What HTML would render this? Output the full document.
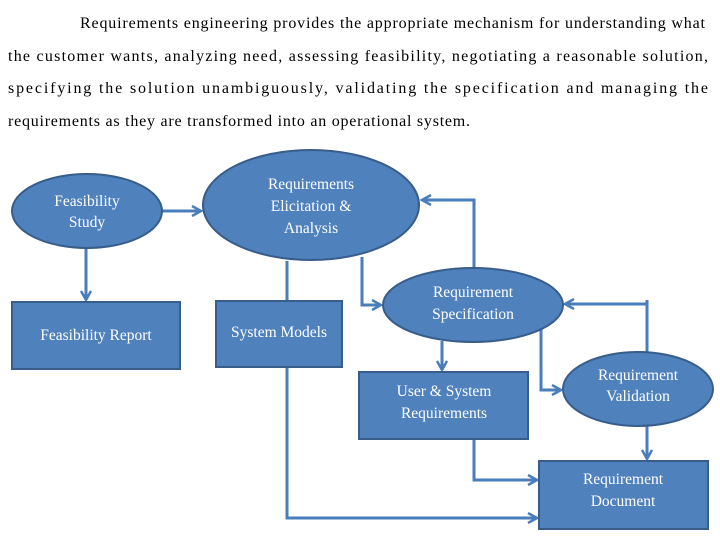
<!DOCTYPE html>
<html><head><meta charset="utf-8"><style>
html,body{margin:0;padding:0;background:#fff;}
svg{display:block;}
.p{font-family:"Liberation Serif",serif;font-size:16px;fill:#000;}
.w{font-family:"Liberation Serif",serif;font-size:15.5px;fill:#fff;text-anchor:middle;}
.s{fill:#4f81bd;stroke:#385d8a;stroke-width:2;}
.l{stroke:#4a7ebb;stroke-width:3;fill:none;}
</style></head><body>
<svg width="720" height="540" viewBox="0 0 720 540" xmlns="http://www.w3.org/2000/svg">
<defs><marker id="a" markerWidth="6" markerHeight="6" refX="5" refY="3" orient="auto" markerUnits="userSpaceOnUse" viewBox="0 0 6 6"><path d="M0,0 L6,3 L0,6" fill="none" stroke="#4a7ebb" stroke-width="1.6"/></marker>
<marker id="b" markerWidth="12" markerHeight="12" refX="10" refY="6" orient="auto" markerUnits="userSpaceOnUse"><path d="M1,1 L10,6 L1,11" fill="none" stroke="#4a7ebb" stroke-width="2.5"/></marker></defs>
<text class="p" x="80" y="28" textLength="625" lengthAdjust="spacing">Requirements engineering provides the appropriate mechanism for understanding what</text>
<text class="p" x="8" y="61" textLength="700" lengthAdjust="spacing">the customer wants, analyzing need, assessing feasibility, negotiating a reasonable solution,</text>
<text class="p" x="8" y="93" textLength="700" lengthAdjust="spacing">specifying the solution unambiguously, validating the specification and managing the</text>
<text class="p" x="8" y="126" textLength="462" lengthAdjust="spacing">requirements as they are transformed into an operational system.</text>

<!-- connectors -->
<path class="l" d="M162,211 L201,211" marker-end="url(#b)"/>
<path class="l" d="M86,248 L86,300" marker-end="url(#b)"/>
<path class="l" d="M287,261 L287,301"/>
<path class="l" d="M362,257 L362,305 L381,305" marker-end="url(#b)"/>
<path class="l" d="M474,268 L474,200 L422,200" marker-end="url(#b)"/>
<path class="l" d="M442,341 L442,370" marker-end="url(#b)"/>
<path class="l" d="M541,328 L541,390 L561,390" marker-end="url(#b)"/>
<path class="l" d="M647,353 L647,300 M647,304 L565,304" marker-end="url(#b)"/>
<path class="l" d="M647,426 L647,459" marker-end="url(#b)"/>
<path class="l" d="M474,439 L474,480 L537,480" marker-end="url(#b)"/>
<path class="l" d="M287,367 L287,518 L537,518" marker-end="url(#b)"/>

<!-- shapes -->
<ellipse class="s" cx="87" cy="211" rx="75" ry="37"/>
<ellipse class="s" cx="311" cy="205" rx="108" ry="55"/>
<rect class="s" x="12" y="302" width="168" height="67"/>
<rect class="s" x="216" y="301" width="126" height="66"/>
<ellipse class="s" cx="473" cy="305" rx="90" ry="37"/>
<rect class="s" x="359" y="372" width="169" height="67"/>
<ellipse class="s" cx="638" cy="389" rx="75" ry="37"/>
<rect class="s" x="539" y="461" width="169" height="68"/>

<text class="w" x="87" y="206">Feasibility</text>
<text class="w" x="87" y="227">Study</text>
<text class="w" x="311" y="189">Requirements</text>
<text class="w" x="311" y="211">Elicitation &amp;</text>
<text class="w" x="311" y="233">Analysis</text>
<text class="w" x="96" y="340">Feasibility Report</text>
<text class="w" x="279" y="337">System Models</text>
<text class="w" x="473" y="297">Requirement</text>
<text class="w" x="473" y="319">Specification</text>
<text class="w" x="444" y="396">User &amp; System</text>
<text class="w" x="444" y="418">Requirements</text>
<text class="w" x="638" y="380">Requirement</text>
<text class="w" x="638" y="401">Validation</text>
<text class="w" x="623" y="484">Requirement</text>
<text class="w" x="623" y="506">Document</text>
</svg>
</body></html>
